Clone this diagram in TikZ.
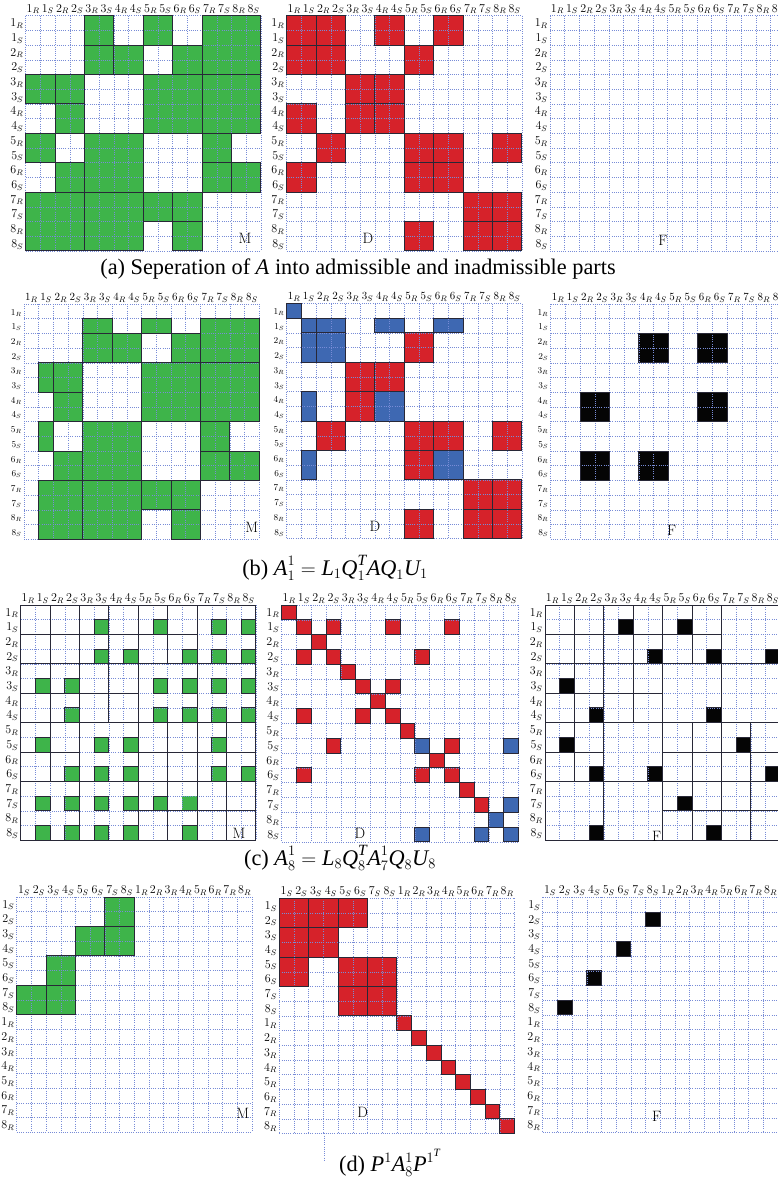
\documentclass[tikz,border=0pt]{standalone}
\usepackage{fontspec}
\usepackage{amsmath}
\newfontfamily\capfont{Liberation Serif}
\definecolor{mgreen}{RGB}{62,180,74}
\definecolor{mred}{RGB}{214,34,42}
\definecolor{mblue}{RGB}{62,104,178}
\definecolor{mblack}{RGB}{5,5,5}
\definecolor{gridcol}{RGB}{120,140,215}
\definecolor{edgecol}{RGB}{40,40,55}
\tikzset{
  gridline/.style={draw=gridcol, line width=0.5pt, dash pattern=on 0.9pt off 1.3pt},
  labtxt/.style={inner sep=0pt},
  captxt/.style={inner sep=0pt, font=\capfont\fontsize{22.3}{25}\selectfont},
  bigtxt/.style={inner sep=0pt, font=\fontsize{15}{16}\selectfont},
}
\newif\ifdrawpass
\newcommand\vi[1]{\text{\capfont\itshape #1}}
\newcommand\pblk[3]{\path[blk=#1] ({2*#3-2},{2*#2-2}) rectangle ({2*#3},{2*#2});}
\newcommand\pbb[3]{\path[blk=#1] ({2*#3-2},{2*#2-2}) rectangle ({2*#3+2},{2*#2+2});}
\newcommand\pcell[3]{\path[blk=#1] ({#3-1},{#2-1}) rectangle (#3,#2);}
\newcommand\prect[5]{\path[blk=#1] (#2,#3) rectangle (#4,#5);}
\newcommand\Gb[2]{\pblk{mgreen}{#1}{#2}}
\newcommand\Gbb[2]{\pbb{mgreen}{#1}{#2}}
\newcommand\Rb[2]{\pblk{mred}{#1}{#2}}
\newcommand\Bb[2]{\pblk{mblue}{#1}{#2}}
\newcommand\Kb[2]{\pblk{mblack}{#1}{#2}}
\newcommand\Gc[2]{\pcell{mgreen}{#1}{#2}}
\newcommand\Rc[2]{\pcell{mred}{#1}{#2}}
\newcommand\Bc[2]{\pcell{mblue}{#1}{#2}}
\newcommand\Kc[2]{\pcell{mblack}{#1}{#2}}
\def\labsA{1_R,1_S,2_R,2_S,3_R,3_S,4_R,4_S,5_R,5_S,6_R,6_S,7_R,7_S,8_R,8_S}
\def\labsD{1_S,2_S,3_S,4_S,5_S,6_S,7_S,8_S,1_R,2_R,3_R,4_R,5_R,6_R,7_R,8_R}
\newcommand\gridlines{\foreach \i in {0,...,16}{\draw[gridline] (\i,0) -- (\i,16); \draw[gridline] (0,\i) -- (16,\i);}}
% panel: #1 name, #2 x0, #3 y0, #4 cell, #5 content, #6 labels, #7 col font, #8 row font
\newcommand\panel[8]{%
  \begin{scope}[shift={(#2,#3)}, x=#4pt, y=-#4pt]
    \drawpassfalse
    \tikzset{blk/.style={fill=##1, draw=none}}
    #5
    \gridlines
    \drawpasstrue
    \tikzset{blk/.style={draw=edgecol, line width=0.9pt}}
    #5
    \foreach \lb [count=\k] in #6 {
      \node[labtxt, font=\fontsize{#7}{#7}\selectfont, anchor=base] (#1-c\k) at (\k-0.5,-0.25) {$\lb$};
      \node[labtxt, font=\fontsize{#8}{#8}\selectfont, anchor=base east] (#1-r\k) at (-0.15,\k-0.25) {$\lb$};
    }
  \end{scope}}
% lists
\newcommand\aMlist{\Gb{1}{3}\Gb{1}{5}\Gbb{1}{7}\Gb{2}{3}\Gb{2}{4}\Gb{2}{6}%
  \Gb{3}{1}\Gb{3}{2}\Gb{4}{2}\Gbb{3}{5}\Gbb{3}{7}%
  \Gb{5}{1}\Gb{6}{2}\Gbb{5}{3}\Gb{5}{7}\Gb{6}{7}\Gb{6}{8}%
  \Gbb{7}{1}\Gbb{7}{3}\Gb{7}{5}\Gb{7}{6}\Gb{8}{6}}
\newcommand\aDlist{\Rb{1}{1}\Rb{1}{2}\Rb{1}{4}\Rb{1}{6}\Rb{2}{1}\Rb{2}{2}\Rb{2}{5}%
  \Rb{3}{3}\Rb{3}{4}\Rb{4}{1}\Rb{4}{3}\Rb{4}{4}\Rb{5}{2}\Rb{5}{5}\Rb{5}{6}\Rb{5}{8}%
  \Rb{6}{1}\Rb{6}{5}\Rb{6}{6}\Rb{7}{7}\Rb{7}{8}\Rb{8}{5}\Rb{8}{7}\Rb{8}{8}}
\newcommand\bMlist{\prect{mgreen}{4}{1}{6}{2}\prect{mgreen}{8}{1}{10}{2}\prect{mgreen}{12}{1}{16}{4}%
  \Gb{2}{3}\Gb{2}{4}\Gb{2}{6}%
  \prect{mgreen}{1}{4}{2}{6}\Gb{3}{2}\Gb{4}{2}\Gbb{3}{5}\Gbb{3}{7}%
  \prect{mgreen}{1}{8}{2}{10}\Gb{6}{2}\Gbb{5}{3}\Gb{5}{7}\Gb{6}{7}\Gb{6}{8}%
  \prect{mgreen}{1}{12}{4}{16}\Gbb{7}{3}\Gb{7}{5}\Gb{7}{6}\Gb{8}{6}}
\newcommand\bDlist{\Bc{1}{1}\Bc{2}{2}\prect{mblue}{2}{1}{4}{2}\prect{mblue}{6}{1}{8}{2}\prect{mblue}{10}{1}{12}{2}%
  \prect{mblue}{1}{2}{2}{4}\Bb{2}{2}\prect{mblue}{1}{6}{2}{8}\Bb{4}{4}\prect{mblue}{1}{10}{2}{12}\Bb{6}{6}%
  \Rb{2}{5}\Rb{3}{3}\Rb{3}{4}\Rb{4}{3}\Rb{5}{2}\Rb{5}{5}\Rb{5}{6}\Rb{5}{8}\Rb{6}{5}%
  \Rb{7}{7}\Rb{7}{8}\Rb{8}{5}\Rb{8}{7}\Rb{8}{8}}
\newcommand\bFlist{\Kb{2}{4}\Kb{2}{6}\Kb{4}{2}\Kb{4}{6}\Kb{6}{2}\Kb{6}{4}}
\newcommand\cMlist{\ifdrawpass\aMlist\aDlist\else\fill[mgreen] (11,13) rectangle (12,14);\fi
  \Gc{2}{6}\Gc{2}{10}\Gc{2}{14}\Gc{2}{16}%
  \Gc{4}{6}\Gc{4}{8}\Gc{4}{12}\Gc{4}{14}\Gc{4}{16}%
  \Gc{6}{2}\Gc{6}{4}\Gc{6}{10}\Gc{6}{12}\Gc{6}{14}\Gc{6}{16}%
  \Gc{8}{4}\Gc{8}{10}\Gc{8}{12}\Gc{8}{14}\Gc{8}{16}%
  \Gc{10}{2}\Gc{10}{6}\Gc{10}{8}\Gc{10}{14}%
  \Gc{12}{4}\Gc{12}{6}\Gc{12}{8}\Gc{12}{14}\Gc{12}{16}%
  \Gc{14}{2}\Gc{14}{4}\Gc{14}{6}\Gc{14}{8}\Gc{14}{10}%
  \Gc{16}{2}\Gc{16}{4}\Gc{16}{6}\Gc{16}{8}\Gc{16}{12}}
\newcommand\cDlist{\Rc{1}{1}\Rc{2}{2}\Rc{3}{3}\Rc{4}{4}\Rc{5}{5}\Rc{6}{6}\Rc{7}{7}\Rc{8}{8}\Rc{9}{9}%
  \Bc{10}{10}\Rc{11}{11}\Rc{12}{12}\Rc{13}{13}\Rc{14}{14}\Bc{15}{15}\Bc{16}{16}%
  \Rc{2}{4}\Rc{2}{8}\Rc{2}{12}\Rc{4}{2}\Rc{4}{10}\Rc{6}{8}\Rc{8}{2}\Rc{8}{6}%
  \Rc{10}{4}\Rc{10}{12}\Rc{12}{2}\Rc{12}{10}%
  \Bc{10}{16}\Bc{14}{16}\Bc{16}{10}\Bc{16}{14}}
\newcommand\cFlist{\ifdrawpass\aMlist\aDlist\fi
  \Kc{2}{6}\Kc{2}{10}\Kc{4}{8}\Kc{4}{12}\Kc{4}{16}\Kc{6}{2}\Kc{8}{4}\Kc{8}{12}%
  \Kc{10}{2}\Kc{10}{14}\Kc{12}{4}\Kc{12}{8}\Kc{12}{16}\Kc{14}{10}\Kc{16}{4}\Kc{16}{12}}
\newcommand\dMlist{\Gb{1}{4}\Gb{2}{3}\Gb{2}{4}\Gb{3}{2}\Gb{4}{1}\Gb{4}{2}}
\newcommand\dDlist{\Rb{1}{1}\Rb{1}{2}\Rb{1}{3}\Rb{2}{1}\Rb{2}{2}\Rb{3}{1}\Rb{3}{3}\Rb{3}{4}\Rb{4}{3}\Rb{4}{4}%
  \Rc{9}{9}\Rc{10}{10}\Rc{11}{11}\Rc{12}{12}\Rc{13}{13}\Rc{14}{14}\Rc{15}{15}\Rc{16}{16}}
\newcommand\dFlist{\Kc{2}{8}\Kc{4}{6}\Kc{6}{4}\Kc{8}{2}}
\begin{document}
\begin{tikzpicture}[x=1pt,y=-1pt]
\useasboundingbox (0,0) rectangle (778,1184);
\fill[white] (0,0) rectangle (778,1184);
% row a
\panel{aM}{25.7}{15.7}{14.7}{\aMlist}{\labsA}{12}{12}
\panel{aD}{286.7}{15.7}{14.7}{\aDlist}{\labsA}{12}{12}
\panel{aF}{550}{15.7}{14.7}{}{\labsA}{12}{12}
\node[bigtxt] (aMt) at (245,238) {M};
\node[bigtxt] (aDt) at (368,238) {D};
\node[bigtxt] (aFt) at (663,240) {F};
\node[captxt] (capa) at (358,269) {(a) Seperation of \textit{A} into admissible and inadmissible parts};
% row b
\panel{bM}{24}{304}{14.7}{\bMlist}{\labsA}{11}{9}
\panel{bD}{286.7}{303.5}{14.7}{\bDlist}{\labsA}{11}{9}
\panel{bF}{550.7}{304}{14.7}{\bFlist}{\labsA}{11}{9}
\node[bigtxt] (bMt) at (251.7,527) {M};
\node[bigtxt] (bDt) at (375,526) {D};
\node[bigtxt] (bFt) at (671.7,530) {F};
\node[captxt] (capb) at (335,568) {(b) $\vi{A}_1^1 = \vi{L}_1\vi{Q}_1^{\vi{T}}\vi{A}\vi{Q}_1\vi{U}_1$};
% row c
\panel{cM}{20.7}{605}{14.7}{\cMlist}{\labsA}{12}{12}
\panel{cD}{281.7}{605}{14.8}{\cDlist}{\labsA}{12}{12}
\panel{cF}{545}{605}{14.7}{\cFlist}{\labsA}{12}{12}
\node[bigtxt] (cMt) at (239,833) {M};
\node[bigtxt] (cDt) at (360,833) {D};
\node[bigtxt] (cFt) at (656.7,836) {F};
\node[captxt] (capc) at (340,858) {(c) $\vi{A}_8^1 = \vi{L}_8\vi{Q}_8^{\vi{T}}\vi{A}_7^1\vi{Q}_8\vi{U}_8$};
% row d
\panel{dM}{16.7}{897}{14.7}{\dMlist}{\labsD}{12}{12}
\panel{dD}{279.3}{898.3}{14.7}{\dDlist}{\labsD}{12}{12}
\panel{dF}{542.7}{897.3}{14.7}{\dFlist}{\labsD}{12}{12}
\node[bigtxt] (dMt) at (242.7,1113) {M};
\node[bigtxt] (dDt) at (362.7,1112) {D};
\node[bigtxt] (dFt) at (656.7,1116) {F};
\coordinate (tailA) at (324,1133.3);
\coordinate (tailB) at (324,1160);
\draw[gridline] (tailA) -- (tailB);
\node[captxt] (capd) at (390,1163) {(d) $\vi{P}^1\vi{A}_8^1\vi{P}^{1^{\vi{T}}}$};
\end{tikzpicture}
\end{document}
